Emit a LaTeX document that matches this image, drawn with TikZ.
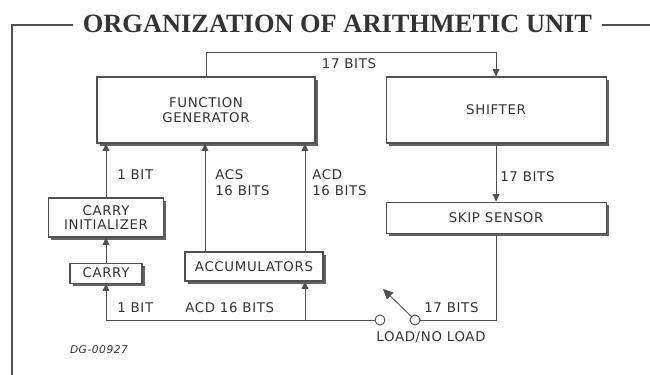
\documentclass[tikz,border=0pt]{standalone}
\usepackage{fontspec}
\usepackage{tikz}
\usetikzlibrary{arrows.meta,positioning,shadows}
\newfontfamily\lblfont[LetterSpace=5]{DejaVu Sans}
\newfontfamily\ttlfont{Liberation Serif}
\definecolor{inkGray}{HTML}{333333}
\definecolor{lineGray}{HTML}{505050}
\definecolor{shadowGray}{HTML}{626262}

\begin{document}
\begin{tikzpicture}[
    x=0.75pt, y=-0.75pt,
    box/.style={rectangle, draw=lineGray, line width=0.8pt, fill=white,
                align=center, inner sep=0pt, text=inkGray,
                font=\lblfont\fontsize{10}{11}\selectfont,
                drop shadow={shadow xshift=2.2pt, shadow yshift=-2.2pt,
                             fill=shadowGray, opacity=1}},
    lbl/.style={text=inkGray, inner sep=0pt, align=left,
                font=\lblfont\fontsize{10}{12}\selectfont},
    wire/.style={draw=lineGray, line width=0.7pt},
    arrow/.style={wire, -{Triangle[length=5.5pt, width=5pt, fill=lineGray]}},
    pin/.style={circle, draw=lineGray, line width=0.7pt, fill=white,
                minimum size=7.5pt, inner sep=0pt},
    frame/.style={draw=lineGray, line width=1.4pt},
]
    \useasboundingbox (0,0) rectangle (650,375);

    % title and frame
    \node[text=inkGray, inner xsep=7.5pt, inner ysep=0pt,
          font=\ttlfont\bfseries\fontsize{19.8}{20}\selectfont]
         (title) at (337.5,24) {ORGANIZATION OF ARITHMETIC UNIT};
    \coordinate (fcorner) at (12,25);
    \coordinate (fbottom) at (12,375);
    \coordinate (fright) at (650,25);
    \draw[frame] (title.west |- fcorner) -- (fcorner) -- (fbottom);
    \draw[frame] (title.east |- fright) -- (fright);

    % blocks
    \node[box, minimum width=163.5pt, minimum height=49.5pt]
         (fg) at (206,110) {FUNCTION\\GENERATOR};
    \node[box, minimum width=165pt, minimum height=49.5pt,
          right=52.5pt of fg] (shifter) {SHIFTER};
    \node[box, minimum width=165pt, minimum height=23.25pt,
          below=43.5pt of shifter] (skip) {SKIP SENSOR};
    \node[box, minimum width=86.25pt, minimum height=29.25pt]
         (init) at (106,217.5) {CARRY\\INITIALIZER};
    \node[box, minimum width=54pt, minimum height=15pt,
          below=18.75pt of init] (carry) {CARRY};
    \node[box, minimum width=103.5pt, minimum height=21.75pt]
         (acc) at (254,266.5) {ACCUMULATORS};

    % switch
    \node[pin] (swl) at (380,320) {};
    \node[pin] (swr) at (415,320) {};
    \coordinate (swtip) at (383,289);

    \coordinate (acsout) at ([xshift=-36.75pt]acc.north);
    \coordinate (acdout) at ([xshift=38.25pt]acc.north);
    \coordinate (acdin) at ([xshift=38.25pt]acc.south);

    % connectors
    \draw[arrow] (fg.north) -- ++(0,-24) -| (shifter.north);
    \draw[arrow] (init.north) -- (init.north |- fg.south);
    \draw[arrow] (carry.north) -- (init.south);
    \draw[arrow] (acsout) -- (acsout |- fg.south);
    \draw[arrow] (acdout) -- (acdout |- fg.south);
    \draw[arrow] (shifter.south) -- (skip.north);
    \draw[wire] (skip.south) |- (swr.east);
    \draw[arrow] (swl.west) -| (carry.south);
    \draw[arrow] (acdin |- swl) -- (acdin);
    \draw[wire, -{Triangle[length=7.5pt, width=7pt, fill=lineGray]}]
         (swr) -- (swtip);

    % labels
    \node[lbl] (ltop) at (349,64) {17 BITS};
    \node[lbl, anchor=west] (lbitup) at (117,174.5) {1 BIT};
    \node[lbl, anchor=north west] (lacs) at (215,169) {ACS\\16 BITS};
    \node[lbl, anchor=north west] (lacd) at (312,169) {ACD\\16 BITS};
    \node[lbl, anchor=west] (lshift) at (500,177) {17 BITS};
    \node[lbl, anchor=west] (lbitlow) at (117,308) {1 BIT};
    \node[lbl, anchor=west] (lacdlow) at (185,308) {ACD 16 BITS};
    \node[lbl, anchor=west] (lskip) at (424,308) {17 BITS};
    \node[lbl] (lload) at (431,337) {LOAD/NO LOAD};
    \node[lbl, font=\lblfont\itshape\fontsize{8}{9}\selectfont]
         (ldg) at (99,350) {DG-00927};
\end{tikzpicture}
\end{document}
